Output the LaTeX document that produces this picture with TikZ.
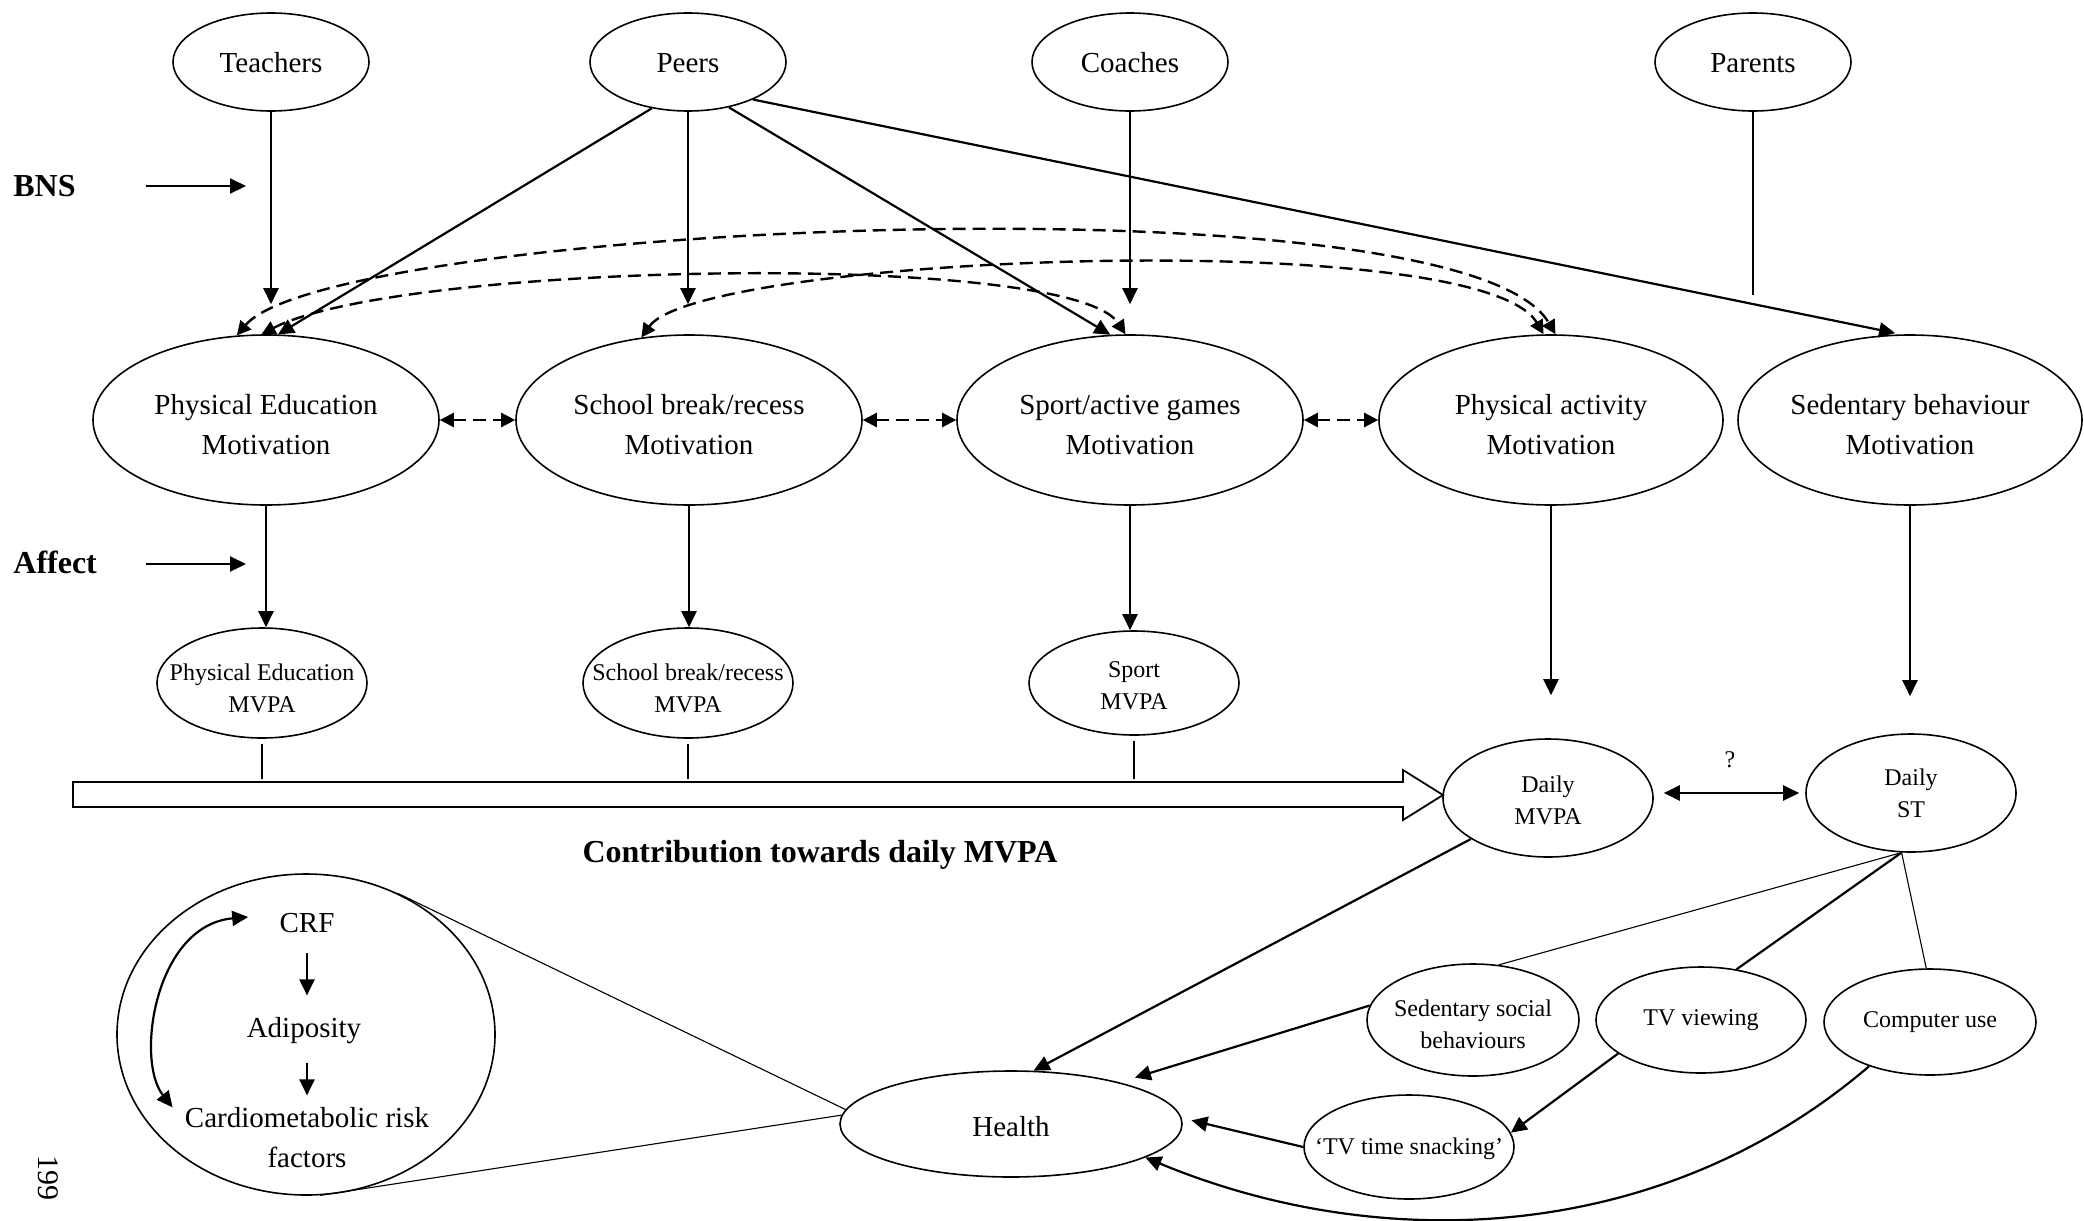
\documentclass[tikz,border=0pt]{standalone}
\usepackage{fontspec}
\setmainfont{Liberation Serif}
\usetikzlibrary{arrows.meta,shapes.geometric,calc}
\newcommand\zw[1]{\makebox[0pt]{#1}}
\newcommand\up[1]{\rule{0pt}{#1}}
\begin{document}
\begin{tikzpicture}[x=0.5pt,y=-0.5pt,
  ell/.style={ellipse,draw,line width=0.8pt,inner sep=0pt},
  bigtxt/.style={font=\fontsize{14.5}{20}\selectfont,align=center},
  smalltxt/.style={font=\fontsize{12}{16}\selectfont,align=center},
  boldtxt/.style={font=\fontsize{16}{20}\selectfont\bfseries,inner sep=0pt},
  arr/.style={line width=1.1pt,-{Triangle[length=8pt,width=7.5pt]}},
  arrboth/.style={line width=1.1pt,{Triangle[length=8pt,width=7.5pt]}-{Triangle[length=8pt,width=7.5pt]}},
  darr/.style={line width=1.2pt,dash pattern=on 6.5pt off 3.5pt,{Triangle[length=7pt,width=7pt]}-{Triangle[length=7pt,width=7pt]}},
  thinline/.style={line width=0.55pt},
  topell/.style={ell,bigtxt,minimum width=98pt,minimum height=49pt},
  motell/.style={ell,bigtxt,minimum width=173pt,minimum height=85pt},
  smell/.style={ell,smalltxt,minimum width=105pt,minimum height=55pt}]
\useasboundingbox (0,0) rectangle (2084,1221);

% top row
\node[topell] (teach) at (271,62) {\up{11pt}Teachers};
\node[topell] (peers) at (688,62) {\up{11pt}Peers};
\node[topell] (coach) at (1130,62) {\up{11pt}Coaches};
\node[topell] (parent) at (1753,62) {\up{11pt}Parents};

% motivation row
\node[motell] (pem) at (266,420) {\up{15pt}\zw{Physical Education}\\\zw{Motivation}};
\node[motell] (sbm) at (689,420) {\up{15pt}\zw{School break/recess}\\\zw{Motivation}};
\node[motell] (spm) at (1130,420) {\up{15pt}\zw{Sport/active games}\\\zw{Motivation}};
\node[motell,minimum width=172pt] (pam) at (1551,420) {\up{15pt}\zw{Physical activity}\\\zw{Motivation}};
\node[motell,minimum width=172pt] (sedm) at (1910,420) {\up{15pt}\zw{Sedentary behaviour}\\\zw{Motivation}};

% MVPA row
\node[smell] (pemv) at (262,683) {\up{13.5pt}\zw{Physical Education}\\\zw{MVPA}};
\node[smell] (sbmv) at (688,683) {\up{13.5pt}\zw{School break/recess}\\\zw{MVPA}};
\node[smell,minimum height=52pt] (spmv) at (1134,683) {\up{11pt}\zw{Sport}\\\zw{MVPA}};
\node[smell,minimum height=59pt] (dmvpa) at (1548,798) {\up{11pt}\zw{Daily}\\\zw{MVPA}};
\node[smell,minimum height=59pt] (dst) at (1911,793) {\zw{Daily}\\\zw{ST}};
\node[smalltxt] (q) at (1730,760) {?};

% bottom
\node[ell,bigtxt,minimum width=171pt,minimum height=53pt] (health) at (1011,1124) {\up{12.5pt}Health};
\node[smell,minimum width=106pt,minimum height=56pt] (sedsoc) at (1473,1020) {\up{12.2pt}\zw{Sedentary social}\\\zw{behaviours}};
\node[smell,minimum height=53pt] (tvv) at (1701,1020) {\zw{TV viewing}};
\node[smell,minimum width=106pt,minimum height=53pt] (comp) at (1930,1022) {\zw{Computer use}};
\node[smell,minimum height=52pt] (snack) at (1409,1147) {\up{10pt}\zw{`TV time snacking'}};

\node[ell,minimum width=189pt,minimum height=160.5pt] (bigell) at (306,1034.5) {};
\node[bigtxt,inner sep=0pt] (crf) at (307,923) {CRF};
\node[bigtxt,inner sep=0pt] (adip) at (304,1031) {Adiposity};
\node[bigtxt,inner sep=0pt] (cardio) at (307,1138) {Cardiometabolic risk\\factors};

% side labels
\node[boldtxt,anchor=west] (bns) at (13,186) {BNS};
\node[boldtxt,anchor=west] (affect) at (13,562) {Affect};
\coordinate (bnsend) at (246,186);
\coordinate (affend) at (246,564);
\node[boldtxt] (contrib) at (820,855) {Contribution towards daily MVPA};
\node[rotate=-90,font=\fontsize{15}{18}\selectfont] (pg) at (48,1178) {199};
\coordinate (parend) at (1753,295);
\coordinate (shaftTL) at (73,782);

% side arrows
\draw[arr,shorten <=35pt] (bns.east) -- (bnsend);
\draw[arr,shorten <=24.5pt] (affect.east |- affend) -- (affend);

% top arrows
\draw[arr,shorten >=15pt] (teach.south) -- (teach.south |- pem.north);
\draw[arr,shorten >=15pt] (peers.south) -- (peers.south |- sbm.north);
\draw[arr,shorten >=15pt] (coach.south) -- (coach.south |- spm.north);
\draw[thinline] (parent.south) -- (parend);
\draw[arr] (peers.232) -- (pem.82);
\draw[arr] (peers.312) -- (spm.103);
\draw[arr,shorten >=3pt] (peers.-30) -- (sedm.96);

% dashed correlations
\draw[darr] (pem.109) .. controls (330,225) and (1460,172) .. (pam.87);
\draw[darr] (pem.93) .. controls (400,262) and (1070,250) .. (spm.93);
\draw[darr] (sbm.120) .. controls (700,255) and (1480,225) .. (pam.95);
\draw[darr] (pem.east) -- (sbm.west);
\draw[darr] (sbm.east) -- (spm.west);
\draw[darr] (spm.east) -- (pam.west);

% motivation -> behaviour
\draw[arr] (pem.south) -- (pem.south |- pemv.north);
\draw[arr] (sbm.south) -- (sbm.south |- sbmv.north);
\draw[arr] (spm.south) -- (spm.south |- spmv.north);
\draw[arr,shorten >=21.5pt] (pam.south) -- (pam.south |- dmvpa.north);
\draw[arr,shorten >=18.5pt] (sedm.south) -- (sedm.south |- dst.north);

% ticks and contribution arrow
\draw[thinline,shorten <=2.5pt,shorten >=1.5pt] (pemv.south) -- (pemv.south |- shaftTL);
\draw[thinline,shorten <=2.5pt,shorten >=1.5pt] (sbmv.south) -- (sbmv.south |- shaftTL);
\draw[thinline,shorten <=2.5pt,shorten >=1.5pt] (spmv.south) -- (spmv.south |- shaftTL);
\draw[line width=0.9pt,line join=miter] (shaftTL) -- (1403,782) -- (1403,770) -- (1443,795) -- (1403,820) -- (1403,807) -- (73,807) -- cycle;

% daily MVPA <-> ST
\draw[arrboth,shorten <=5pt,shorten >=3pt] (dmvpa.east |- dst.west) -- (dst.west);

% ST components
\draw[thinline] (dst.261) -- (sedsoc.65);
\draw[line width=1.1pt] (dst.261) -- (tvv.55);
\draw[thinline] (dst.261) -- (comp.94);

% to health
\draw[arr] (dmvpa.208) -- (health.67);
\draw[arr,shorten >=8pt] (sedsoc.172) -- (health.21);
\draw[arr] (tvv.202) -- (snack.8);
\draw[arr,shorten >=5pt] (snack.west) -- (health.2);
\draw[arr] (comp.216) .. controls (1660,1245) and (1380,1255) .. (health.-14);

% health zoom
\draw[thinline] (bigell.57) -- (health.175);
\draw[thinline] (bigell.275) -- (health.177);
\draw[arr,shorten <=10pt,shorten >=11pt] (crf.south) -- (crf.south |- adip.north);
\draw[arr,shorten <=9pt,shorten >=6pt] (crf.south |- adip.south) -- (crf.south |- cardio.north);
\draw[arrboth] ([xshift=-15.5pt,yshift=3pt]crf.west) .. controls (155,925) and (135,1060) .. ([xshift=-6pt]cardio.north west);
\end{tikzpicture}
\end{document}
